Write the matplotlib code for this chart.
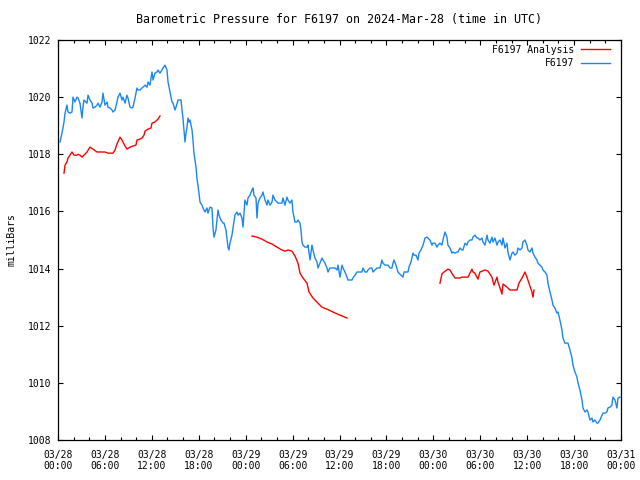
#!/usr/bin/env python3
"""
Barometric pressure chart for station F6197, gnuplot look
"""

from datetime import datetime, timedelta
import matplotlib
matplotlib.use("Agg")
import matplotlib.pyplot as plt
import matplotlib.dates as mdates

start = datetime(2024, 3, 28)

# observed pressure (hours since 03/28 00:00 UTC, mb)
obs_hours = [
    0.26, 0.51, 0.77, 0.90, 1.15, 1.28, 1.53, 1.79, 1.92, 2.17, 2.43, 2.56, 2.81, 3.07, 3.20, 3.32,
    3.71, 3.84, 4.09, 4.35, 4.48, 4.73, 4.99, 5.12, 5.37, 5.63, 5.75, 6.01, 6.27, 6.39, 6.65, 6.91,
    7.03, 7.29, 7.54, 7.67, 7.93, 8.18, 8.31, 8.57, 8.82, 8.95, 9.21, 9.46, 9.59, 9.85, 10.10, 10.23,
    10.49, 10.74, 10.87, 11.13, 11.38, 11.51, 11.76, 12.02, 12.15, 12.40, 12.66, 12.79, 13.04, 13.30,
    13.43, 13.68, 13.94, 14.07, 14.32, 14.58, 14.71, 14.96, 15.09, 15.35, 15.47, 15.73, 15.86, 15.98,
    16.11, 16.24, 16.37, 16.50, 16.62, 16.75, 16.88, 17.14, 17.26, 17.39, 17.65, 17.77, 18.03, 18.16,
    18.41, 18.54, 18.80, 19.05, 19.18, 19.44, 19.69, 19.82, 19.95, 20.20, 20.46, 20.59, 20.84, 21.10,
    21.23, 21.48, 21.74, 21.87, 21.99, 22.25, 22.38, 22.63, 22.89, 23.02, 23.27, 23.53, 23.66, 23.91,
    24.17, 24.30, 24.55, 24.81, 24.94, 25.06, 25.32, 25.45, 25.58, 25.83, 26.09, 26.21, 26.47, 26.73,
    26.85, 27.11, 27.37, 27.49, 27.75, 28.01, 28.13, 28.39, 28.64, 28.77, 29.03, 29.28, 29.41, 29.67,
    29.92, 30.05, 30.31, 30.56, 30.69, 30.95, 31.07, 31.20, 31.33, 31.59, 31.84, 31.97, 32.23, 32.48,
    32.61, 32.86, 33.12, 33.25, 33.50, 33.76, 33.89, 34.14, 34.40, 34.53, 34.78, 35.04, 35.17, 35.42,
    35.68, 35.81, 36.06, 36.32, 36.45, 36.70, 36.96, 37.08, 37.34, 37.60, 37.72, 37.98, 38.24, 38.36,
    38.62, 38.87, 39.00, 39.26, 39.51, 39.64, 39.90, 40.15, 40.28, 40.54, 40.79, 40.92, 41.18, 41.43,
    41.56, 41.82, 42.07, 42.20, 42.46, 42.71, 42.84, 42.97, 43.22, 43.48, 43.61, 43.86, 44.12, 44.25,
    44.50, 44.76, 44.88, 45.14, 45.40, 45.52, 45.78, 46.04, 46.16, 46.42, 46.68, 46.80, 46.93, 47.19,
    47.31, 47.57, 47.83, 47.95, 48.21, 48.47, 48.59, 48.85, 49.10, 49.23, 49.49, 49.74, 49.87, 50.13,
    50.38, 50.51, 50.77, 51.02, 51.15, 51.41, 51.66, 51.79, 52.05, 52.30, 52.43, 52.69, 52.94, 53.07,
    53.32, 53.58, 53.71, 53.96, 54.22, 54.35, 54.60, 54.86, 54.99, 55.24, 55.50, 55.63, 55.88, 56.14,
    56.27, 56.52, 56.78, 56.91, 57.16, 57.42, 57.54, 57.80, 58.06, 58.18, 58.44, 58.70, 58.82, 59.08,
    59.34, 59.46, 59.72, 59.97, 60.10, 60.36, 60.61, 60.74, 61.00, 61.25, 61.38, 61.64, 61.89, 62.02,
    62.28, 62.53, 62.66, 62.92, 63.17, 63.30, 63.55, 63.81, 63.94, 64.19, 64.45, 64.58, 64.83, 65.09,
    65.22, 65.47, 65.73, 65.86, 66.11, 66.37, 66.50, 66.75, 67.01, 67.14, 67.39, 67.65, 67.77, 68.03,
    68.29, 68.41, 68.67, 68.93, 69.05, 69.31, 69.57, 69.69, 69.95, 70.20, 70.33, 70.59, 70.84, 70.97,
    71.23, 71.48, 71.61, 71.87,
]
obs_mb = [
    1018.43, 1018.74, 1019.13, 1019.44, 1019.72, 1019.48, 1019.44, 1019.48, 1020.00, 1019.83, 1020.00,
    1019.97, 1019.79, 1019.27, 1019.65, 1019.90, 1019.79, 1020.07, 1019.90, 1019.79, 1019.62, 1019.65,
    1019.72, 1019.79, 1019.65, 1019.83, 1020.14, 1019.72, 1019.83, 1019.65, 1019.62, 1019.55, 1019.48,
    1019.55, 1019.83, 1020.00, 1020.14, 1019.90, 1020.00, 1019.79, 1020.07, 1019.97, 1019.65, 1019.62,
    1019.65, 1019.97, 1020.32, 1020.25, 1020.25, 1020.32, 1020.35, 1020.42, 1020.35, 1020.53, 1020.42,
    1020.88, 1020.60, 1020.84, 1020.88, 1020.95, 1020.84, 1020.95, 1021.02, 1021.12, 1020.95, 1020.53,
    1020.18, 1019.83, 1019.79, 1019.55, 1019.65, 1019.90, 1019.90, 1019.90, 1019.55, 1019.27, 1018.85,
    1018.43, 1018.74, 1018.95, 1019.27, 1019.13, 1019.20, 1018.85, 1018.50, 1018.04, 1017.55, 1017.17,
    1016.64, 1016.33, 1016.22, 1016.12, 1015.98, 1016.12, 1015.94, 1016.15, 1016.12, 1015.45, 1015.10,
    1015.35, 1016.05, 1015.87, 1015.70, 1015.59, 1015.59, 1015.35, 1014.75, 1014.65, 1014.89, 1015.17,
    1015.42, 1015.87, 1015.98, 1015.87, 1015.94, 1015.77, 1015.45, 1016.40, 1016.22, 1016.47, 1016.57,
    1016.75, 1016.82, 1016.57, 1016.47, 1015.77, 1016.29, 1016.47, 1016.57, 1016.68, 1016.40, 1016.22,
    1016.40, 1016.22, 1016.33, 1016.57, 1016.40, 1016.33, 1016.29, 1016.29, 1016.29, 1016.47, 1016.22,
    1016.50, 1016.40, 1016.29, 1016.40, 1015.98, 1015.63, 1015.63, 1015.70, 1015.59, 1015.35, 1014.93,
    1014.82, 1014.75, 1014.75, 1014.82, 1014.30, 1014.82, 1014.65, 1014.37, 1014.23, 1014.02, 1014.19,
    1014.37, 1014.30, 1014.19, 1014.02, 1013.88, 1014.02, 1014.02, 1014.02, 1014.02, 1013.95, 1014.12,
    1013.70, 1014.12, 1014.02, 1013.88, 1013.70, 1013.60, 1013.60, 1013.60, 1013.67, 1013.77, 1013.88,
    1013.88, 1013.88, 1013.88, 1014.02, 1013.88, 1013.88, 1013.95, 1014.02, 1014.02, 1013.88, 1013.95,
    1014.02, 1014.02, 1014.02, 1014.30, 1014.19, 1014.12, 1014.12, 1014.12, 1014.02, 1014.02, 1014.19,
    1014.30, 1014.12, 1013.88, 1013.84, 1013.77, 1013.70, 1013.88, 1013.88, 1013.88, 1014.05, 1014.23,
    1014.54, 1014.47, 1014.47, 1014.30, 1014.54, 1014.65, 1014.82, 1014.93, 1015.07, 1015.10, 1015.07,
    1015.00, 1014.82, 1014.89, 1014.89, 1014.75, 1014.82, 1014.89, 1014.82, 1015.00, 1015.28, 1015.10,
    1014.82, 1014.72, 1014.54, 1014.58, 1014.54, 1014.58, 1014.58, 1014.72, 1014.65, 1014.65, 1014.89,
    1014.82, 1014.93, 1015.00, 1015.00, 1015.10, 1015.17, 1015.07, 1015.07, 1015.00, 1015.07, 1014.93,
    1014.82, 1015.17, 1015.00, 1014.89, 1015.10, 1014.93, 1015.07, 1014.82, 1014.93, 1015.00, 1014.82,
    1015.07, 1014.72, 1014.89, 1014.58, 1014.30, 1014.54, 1014.58, 1014.47, 1014.54, 1014.72, 1014.65,
    1014.72, 1014.93, 1015.00, 1014.82, 1014.65, 1014.58, 1014.72, 1014.54, 1014.40, 1014.30, 1014.19,
    1014.12, 1014.05, 1013.95, 1013.88, 1013.77, 1013.49, 1013.18, 1012.90, 1012.72, 1012.62, 1012.44,
    1012.48, 1012.20, 1011.85, 1011.57, 1011.39, 1011.39, 1011.39, 1011.15, 1010.87, 1010.62, 1010.38,
    1010.20, 1010.00, 1009.75, 1009.40, 1009.12, 1008.98, 1009.05, 1008.98, 1008.70, 1008.77, 1008.63,
    1008.70, 1008.59, 1008.59, 1008.70, 1008.87, 1008.94, 1008.94, 1008.98, 1009.12, 1009.15, 1009.22,
    1009.50, 1009.40, 1009.12, 1009.47, 1009.50,
]

# model analysis, three separate runs
ana1_hours = [0.77, 0.90, 1.15, 1.28, 1.53, 1.79, 2.05, 2.43, 2.56, 2.81, 3.07, 3.32, 3.71, 4.09,
              4.48, 4.99, 5.37, 6.01, 6.39, 7.03, 7.29, 7.54, 7.93, 8.18, 8.57, 8.82, 9.21, 9.59,
              9.97, 10.10, 10.49, 10.74, 11.00, 11.13, 11.51, 11.89, 12.02, 12.40, 12.79, 13.04]
ana1_mb = [1017.34, 1017.62, 1017.73, 1017.87, 1017.97, 1018.08, 1017.97, 1017.97, 1018.00, 1017.97,
           1017.90, 1017.97, 1018.08, 1018.25, 1018.18, 1018.08, 1018.08, 1018.08, 1018.04, 1018.04,
           1018.15, 1018.36, 1018.60, 1018.50, 1018.29, 1018.18, 1018.25, 1018.29, 1018.32, 1018.50,
           1018.53, 1018.57, 1018.67, 1018.81, 1018.88, 1018.92, 1019.09, 1019.13, 1019.23, 1019.34]

ana2_hours = [24.81, 25.45, 26.09, 26.73, 27.37, 28.01, 28.64, 29.03, 29.41, 29.92, 30.31, 30.69,
              30.95, 31.33, 31.84, 32.10, 32.61, 33.25, 33.76, 34.40, 35.17, 36.06, 36.96]
ana2_mb = [1015.14, 1015.10, 1015.03, 1014.93, 1014.86, 1014.75, 1014.65, 1014.61, 1014.65, 1014.61,
           1014.44, 1014.19, 1013.84, 1013.67, 1013.49, 1013.18, 1012.97, 1012.79, 1012.65, 1012.58,
           1012.48, 1012.37, 1012.27]

ana3_hours = [48.85, 49.10, 49.36, 49.87, 50.13, 50.51, 50.77, 51.41, 51.66, 52.43, 52.94, 53.07,
              53.32, 53.71, 53.96, 54.60, 54.99, 55.50, 55.75, 56.14, 56.27, 56.78, 56.91, 57.42,
              57.80, 58.70, 58.95, 59.34, 59.72, 59.97, 60.23, 60.61, 60.74, 60.87]
ana3_mb = [1013.49, 1013.81, 1013.88, 1013.98, 1013.95, 1013.77, 1013.67, 1013.67, 1013.70, 1013.70,
           1013.98, 1013.88, 1013.84, 1013.63, 1013.88, 1013.95, 1013.91, 1013.70, 1013.42, 1013.70,
           1013.53, 1013.11, 1013.46, 1013.35, 1013.25, 1013.25, 1013.49, 1013.67, 1013.88, 1013.70,
           1013.49, 1013.18, 1013.00, 1013.25]

y_ticks = [1008, 1010, 1012, 1014, 1016, 1018, 1020, 1022]

RED = '#ff0000'
BLUE = '#1a86f5'


def to_time(hours):
    return [start + timedelta(hours=h) for h in hours]


plt.rcParams['font.family'] = ['DejaVu Sans Mono']
plt.rcParams['font.size'] = 7

fig = plt.figure(figsize=(6.4, 4.8), dpi=100)
ax = fig.add_axes([58 / 640, 40 / 480, 563 / 640, 400 / 480])

# analysis runs (red), only the first one gets a legend entry
ax.plot(to_time(ana1_hours), ana1_mb, color=RED, lw=1.0, label='F6197 Analysis')
ax.plot(to_time(ana2_hours), ana2_mb, color=RED, lw=1.0)
ax.plot(to_time(ana3_hours), ana3_mb, color=RED, lw=1.0)
ax.plot(to_time(obs_hours), obs_mb, color=BLUE, lw=1.0, label='F6197')

ax.set_xlim(start, start + timedelta(hours=72))
ax.set_ylim(1008, 1022)
ax.set_yticks(y_ticks)

ax.xaxis.set_major_locator(mdates.HourLocator(byhour=[0, 6, 12, 18]))
ax.xaxis.set_minor_locator(mdates.HourLocator(interval=2))
ax.xaxis.set_major_formatter(mdates.DateFormatter('%m/%d\n%H:%M'))

ax.tick_params(which='both', direction='in', top=True, right=True, colors='black')
ax.tick_params(which='major', length=3.6, width=0.8)
ax.tick_params(which='minor', length=2.2, width=0.8)
ax.tick_params(axis='x', which='major', pad=7)
ax.tick_params(axis='y', which='major', pad=5)
for s in ax.spines.values():
    s.set_linewidth(0.9)

ax.set_title('Barometric Pressure for F6197 on 2024-Mar-28 (time in UTC)', pad=12.5)
ax.set_ylabel('milliBars', labelpad=8)

ax.legend(loc='upper right', frameon=False, markerfirst=False, handlelength=2.9,
          handletextpad=0.7, labelspacing=0.35, borderaxespad=0.3,
          bbox_to_anchor=(0.992, 1.005))

fig.savefig('out.png', dpi=100)
